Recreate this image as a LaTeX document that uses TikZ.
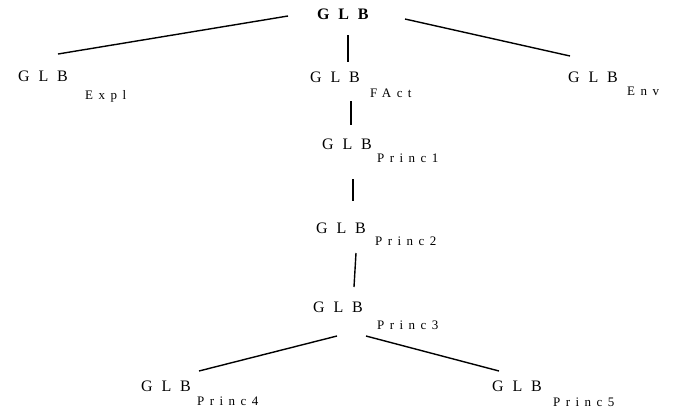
\documentclass[tikz,border=0pt]{standalone}
\usepackage{fontspec}
\usepackage{tikz}
\usetikzlibrary{positioning}
\newfontfamily\glbfont[LetterSpace=55]{Liberation Serif}
\newfontfamily\idxfont[LetterSpace=42]{Liberation Serif}

\begin{document}
\begin{tikzpicture}[
    x=1pt, y=-1pt,
    glb/.style={inner sep=0pt, anchor=base west, font=\glbfont\fontsize{16}{19}\selectfont},
    idx/.style={inner sep=0pt, anchor=base west, font=\idxfont\fontsize{13}{15}\selectfont},
    link/.style={line width=1.4pt}
]
    \useasboundingbox (0,0) rectangle (673,410);

    \node[glb, font=\glbfont\bfseries\fontsize{16}{19}\selectfont] (top) at (317,19) {GLB};

    \node[glb] (expl) at (18,81) {GLB};
    \node[idx] (explsub) at (85,99) {Expl};
    \node[glb] (fact) at (310,82) {GLB};
    \node[idx] (factsub) at (370,97) {FAct};
    \node[glb] (env) at (568,82) {GLB};
    \node[idx] (envsub) at (627,95) {Env};

    \node[glb] (p1) at (322,149) {GLB};
    \node[idx] (p1sub) at (377,162) {Princ1};
    \node[glb] (p2) at (316,233) {GLB};
    \node[idx] (p2sub) at (375,245) {Princ2};
    \node[glb] (p3) at (313,312) {GLB};
    \node[idx] (p3sub) at (377,329) {Princ3};
    \node[glb] (p4) at (141,391) {GLB};
    \node[idx] (p4sub) at (197,405) {Princ4};
    \node[glb] (p5) at (492,391) {GLB};
    \node[idx] (p5sub) at (553,406) {Princ5};

    % top level
    \draw[link] ([xshift=-29pt, yshift=3pt]top.base west) -- ([xshift=40pt, yshift=27pt]expl.base west);
    \draw[link] ([xshift=31pt, yshift=-16pt]top.base west) -- ([xshift=38pt, yshift=20pt]fact.base west);
    \draw[link] ([xshift=88pt]top.base west) -- ([xshift=2pt, yshift=26pt]env.base west);

    % chain of principles
    \draw[link] ([xshift=41pt, yshift=-19pt]fact.base west) -- ([xshift=29pt, yshift=24pt]p1.base west);
    \draw[link] ([xshift=31pt, yshift=-30pt]p1.base west) -- ([xshift=37pt, yshift=32pt]p2.base west);
    \draw[link] ([xshift=40pt, yshift=-20pt]p2.base west) -- ([xshift=41pt, yshift=25pt]p3.base west);
    \draw[link] ([xshift=24pt, yshift=-24pt]p3.base west) -- ([xshift=58pt, yshift=20pt]p4.base west);
    \draw[link] ([xshift=53pt, yshift=-24pt]p3.base west) -- ([xshift=7pt, yshift=20pt]p5.base west);
\end{tikzpicture}
\end{document}
